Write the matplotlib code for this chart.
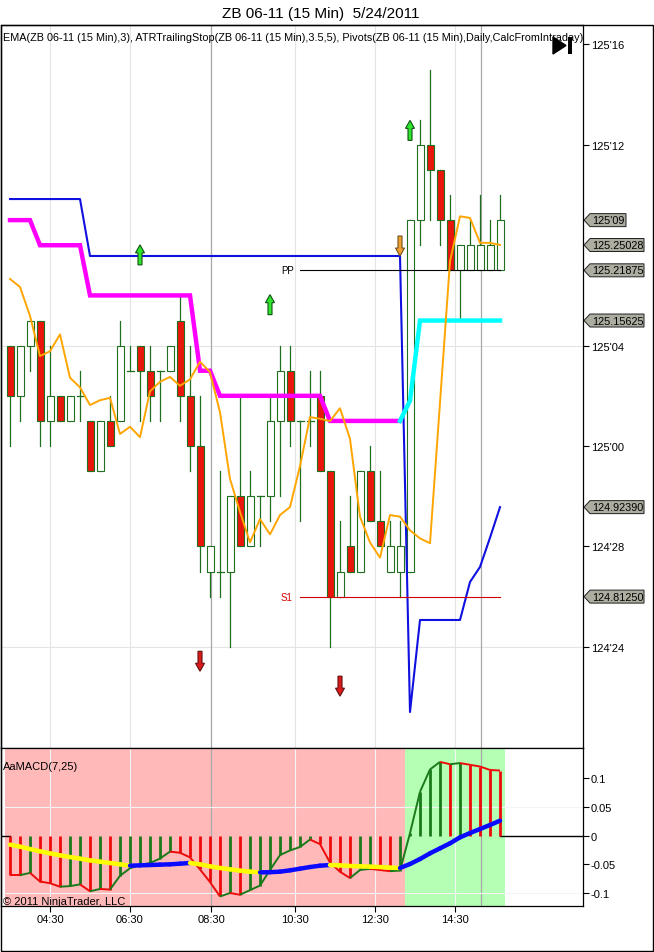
import numpy as np
import matplotlib
matplotlib.use('Agg')
import matplotlib.pyplot as plt
import matplotlib.transforms as mtransforms
from matplotlib.patches import Rectangle, Polygon
from matplotlib.collections import LineCollection

plt.rcParams['font.family'] = ['Liberation Sans', 'DejaVu Sans']

# 15 min bars of ZB 06-11, first bar 03:30; prices in 32nds above 125'00
opens  = [4, 2, 4, 5, 1, 2, 1, 2, 1, -1, 1, 1, 3, 4, 3, 3, 3, 5, 2, 0,
          -5, -5, -5, -2, -4, -2, -2, 1, 3, 1, 1, 2, -1, -6, -4, -5, -1, -3, -5, -5,
          -5, 9, 12, 11, 9, 7, 7, 7, 7, 7]
highs  = [4, 4, 5, 5, 4, 2, 2, 3, 1, 1, 2, 5, 4, 4, 4, 3, 4, 6, 4, 2,
          -4, -1, -2, 2, -1, -2, 2, 4, 4, 1, 3, 3, -1, -3, -2, -1, 0, -1, -3, -3,
          9, 13, 15, 11, 10, 8, 9, 10, 9, 10]
lows   = [0, 1, 3, 0, 0, 1, 1, 1, -1, -1, 0, 1, 3, 1, 1, 1, 3, 1, -1, -5,
          -6, -6, -8, -4, -4, -4, -3, -2, 0, -3, 0, -1, -8, -6, -5, -5, -3, -4, -5, -6,
          -5, 8, 9, 8, 7, 5, 7, 7, 7, 7]
closes = [2, 4, 5, 1, 2, 1, 2, 2, -1, 1, 0, 4, 3, 3, 2, 3, 4, 2, 0, -4,
          -4, -5, -2, -4, -2, -2, 1, 3, 1, 1, 1, -1, -6, -5, -5, -1, -3, -4, -4, -4,
          9, 12, 11, 9, 7, 8, 8, 8, 8, 9]

# EMA(3)
ema = [125.208, 125.198, 125.162, 125.112, 125.118, 125.139, 125.085, 125.073, 125.051, 125.057,
       125.060, 125.015, 125.024, 125.011, 125.068, 125.080, 125.086, 125.075, 125.083, 125.105,
       125.092, 125.042, 124.959, 124.918, 124.880, 124.909, 124.890, 124.914, 124.924, 124.975,
       125.036, 125.034, 125.031, 125.047, 125.009, 124.912, 124.880, 124.861, 124.914, 124.912,
       124.895, 124.885, 124.879, 125.054, 125.230, 125.286, 125.284, 125.253, 125.253, 125.25028]

# ATR trailing stop (short side up to bar 39, then long side)
atr_stop = [125.28125] * 3 + [125.25] * 5 + [125.1875] * 11 + [125.09375] * 2 + \
           [125.0625] * 11 + [125.03125] * 8 + [125.0564] + [125.15625] * 9
atr_flip = 39

# blue stop line
blue_line = [125.3075] * 8 + [125.2366] * 32 + [124.6688] + [124.7834] * 5 + \
            [124.8307, 124.8494, 124.8858, 124.92390]

# pivots
pp_level = 125.21875
s1_level = 124.81250
pivot_start = 29

# signal arrows (bar, price)
long_arrows = [(13, 125.238), (26, 125.176), (40, 125.393)]
short_arrows = [(19, 124.732), (33, 124.701)]
exit_arrows = [(39, 125.249)]

# AaMACD(7,25)
macd_hist = [-0.069, -0.069, -0.065, -0.080, -0.083, -0.089, -0.088, -0.085, -0.097, -0.093,
             -0.094, -0.070, -0.057, -0.051, -0.048, -0.040, -0.028, -0.030, -0.038, -0.059,
             -0.081, -0.106, -0.100, -0.103, -0.095, -0.087, -0.060, -0.034, -0.026, -0.020,
             -0.007, -0.015, -0.047, -0.063, -0.074, -0.060, -0.058, -0.060, -0.062, -0.061,
             0.004, 0.076, 0.115, 0.128, 0.124, 0.126, 0.123, 0.120, 0.114, 0.113]
macd_avg = [-0.0159, -0.0194, -0.0235, -0.0275, -0.0310, -0.0345, -0.0374, -0.0403, -0.0432, -0.0455,
            -0.0478, -0.0501, -0.0525, -0.0519, -0.0513, -0.0507, -0.0501, -0.0490, -0.0478, -0.0501,
            -0.0536, -0.0565, -0.0588, -0.0612, -0.0629, -0.0641, -0.0638, -0.0629, -0.0606, -0.0577,
            -0.0548, -0.0525, -0.0513, -0.0519, -0.0530, -0.0536, -0.0542, -0.0548, -0.0559, -0.0565,
            -0.0496, -0.0409, -0.0310, -0.0223, -0.0136, -0.0032, 0.0043, 0.0113, 0.0183, 0.0258]

time_labels = ['04:30', '06:30', '08:30', '10:30', '12:30', '14:30']
time_pos = [4, 12, 20.1, 28.5, 36.5, 44.5]
session_pos = [20.1, 47.1]
price_ticks = [124.75, 124.875, 125.0, 125.125, 125.375, 125.5]
price_grid = [124.75, 125.125]

WICK = '#1f6f1f'
RED = '#e8160c'


def to_price(t):
    return 125 + np.asarray(t, dtype=float) / 32.0


def fmt32(p):
    whole = int(np.floor(p + 1e-9))
    frac = int(round((p - whole) * 32))
    return "%d'%02d" % (whole, frac)


n = len(opens)
xs = np.arange(n)
o, h, l, c = to_price(opens), to_price(highs), to_price(lows), to_price(closes)

fig = plt.figure(figsize=(6.54, 9.53), dpi=100)
W, H = 654.0, 953.0
ax = fig.add_axes([1 / W, 1 - 749 / H, 582 / W, 723 / H])
ax2 = fig.add_axes([1 / W, 1 - 907 / H, 582 / W, 158 / H], sharex=ax)

xmin, xmax = -0.9, 57.3
ax.set_xlim(xmin, xmax)
ax.set_ylim(124.624, 125.5242)

# grid
for p in price_grid:
    ax.axhline(p, color='#e4e4e4', lw=0.8, zorder=0)
for t in time_pos:
    ax.axvline(t, color='#e4e4e4', lw=0.8, zorder=0)
    ax2.axvline(t, color='#f4f4f4', lw=0.8, zorder=0.5)
for t in session_pos:
    ax.axvline(t, color='#a8a8a8', lw=0.9, zorder=0.2)
    ax2.axvline(t, color='#a8a8a8', lw=0.9, zorder=0.5)

# candles
bw = 0.7
for i in range(n):
    ax.plot([xs[i], xs[i]], [l[i], h[i]], color=WICK, lw=0.9, zorder=2)
    if c[i] == o[i]:
        ax.plot([xs[i] - bw / 2, xs[i] + bw / 2], [o[i], o[i]], color=WICK, lw=0.9, zorder=3)
    else:
        fc = RED if c[i] < o[i] else 'white'
        ax.add_patch(Rectangle((xs[i] - bw / 2, min(o[i], c[i])), bw, abs(c[i] - o[i]),
                               facecolor=fc, edgecolor=WICK, lw=0.8, zorder=3))

# indicator lines
ax.plot(xs, blue_line, color='#1010e0', lw=1.5, zorder=4)
ax.plot(xs[:atr_flip + 1], atr_stop[:atr_flip + 1], color='#ff00ff', lw=3.2, zorder=4,
        solid_joinstyle='miter')
ax.plot(xs[atr_flip:], atr_stop[atr_flip:], color='#00ffff', lw=3.2, zorder=4,
        solid_joinstyle='miter')
ax.plot(xs, ema, color='#ffa500', lw=1.4, zorder=5)

# pivots
ax.plot([pivot_start, n - 1], [pp_level, pp_level], color='black', lw=0.8, zorder=4)
ax.plot([pivot_start, n - 1], [s1_level, s1_level], color='#d40000', lw=0.8, zorder=4)
ax.text(pivot_start - 0.6, pp_level, 'PP', ha='right', va='center', fontsize=7, color='black')
ax.text(pivot_start - 0.8, s1_level, 'S1', ha='right', va='center', fontsize=7, color='#d40000')

# arrows
ppx = (ax.get_ylim()[1] - ax.get_ylim()[0]) / 723.0


def arrow(xc, yc, up, fc, ec):
    hh = 10 * ppx
    head = 8 * ppx
    sw, hw = 0.2, 0.45
    s = 1 if up else -1
    tip = yc + s * hh
    base = yc - s * hh
    neck = tip - s * head
    pts = [(xc, tip), (xc + hw, neck), (xc + sw, neck), (xc + sw, base),
           (xc - sw, base), (xc - sw, neck), (xc - hw, neck)]
    ax.add_patch(Polygon(pts, closed=True, facecolor=fc, edgecolor=ec, lw=0.8, zorder=6))


for bx, py in long_arrows:
    arrow(bx, py, True, '#2ee62e', '#105010')
for bx, py in short_arrows:
    arrow(bx, py, False, '#dd1a1a', '#601010')
for bx, py in exit_arrows:
    arrow(bx, py, False, '#f0a030', '#70501a')

# axis styling, price panel
ax.yaxis.tick_right()
ax.set_yticks(price_ticks)
ax.set_yticklabels([fmt32(p) for p in price_ticks])
ax.tick_params(axis='y', direction='out', length=4, pad=1.5, labelsize=8)
ax.tick_params(axis='x', length=0, labelbottom=False)
for sp in ax.spines.values():
    sp.set_color('black')
    sp.set_linewidth(0.9)

ax.text(2 / 582, 1 - 12 / 723,
        'EMA(ZB 06-11 (15 Min),3), ATRTrailingStop(ZB 06-11 (15 Min),3.5,5), '
        'Pivots(ZB 06-11 (15 Min),Daily,CalcFromIntraday)',
        transform=ax.transAxes, ha='left', va='center', fontsize=7.8, clip_on=True, zorder=7)

# play icon
ax.add_patch(Polygon([(552 / 582, 1 - 12 / 723), (552 / 582, 1 - 29 / 723), (565 / 582, 1 - 20.5 / 723)],
                     closed=True, transform=ax.transAxes, facecolor='black', edgecolor='black',
                     zorder=8))
ax.add_patch(Rectangle((567 / 582, 1 - 29 / 723), 4 / 582, 17 / 723, transform=ax.transAxes,
                       facecolor='black', edgecolor='none', zorder=8))

# price tags
tr = mtransforms.blended_transform_factory(ax.transAxes, ax.transData)
axw = 582.0
tags = [(fmt32(c[-1]), c[-1], 43), ('%.5f' % ema[-1], ema[-1], 61),
        ('%.5f' % pp_level, pp_level, 61), ('%.5f' % atr_stop[-1], atr_stop[-1], 61),
        ('%.5f' % blue_line[-1], blue_line[-1], 61), ('%.5f' % s1_level, s1_level, 61)]
for txt, p, wpx in tags:
    hgt = 6.5 * ppx
    pts = [(1 + 1 / axw, p), (1 + 7 / axw, p + hgt), (1 + wpx / axw, p + hgt),
           (1 + wpx / axw, p - hgt), (1 + 7 / axw, p - hgt)]
    ax.add_patch(Polygon(pts, closed=True, transform=tr, facecolor='#acaca0',
                         edgecolor='#202020', lw=0.7, clip_on=False, zorder=9))
    ax.text(1 + 9 / axw, p, txt, transform=tr, ha='left', va='center', fontsize=7.8,
            clip_on=False, zorder=10)

# MACD panel
ax2.set_ylim(-0.1226, 0.1522)
for i, v in enumerate(macd_hist):
    left = i - 0.5 if i > 0 else max(xmin, i - 0.5)
    ax2.axvspan(left, i + 0.5, color='#ffb9b9' if v < 0 else '#b4ffb4', lw=0, zorder=0)
for gy in [0.05, -0.1]:
    ax2.axhline(gy, color='#f4f4f4', lw=0.8, zorder=0.5)
ax2.plot([xmin, 0], [0, 0], color='black', lw=1, zorder=1)
ax2.plot([n - 1, xmax], [0, 0], color='black', lw=1, zorder=1)

hist_cols = []
for i, v in enumerate(macd_hist):
    rising = i > 0 and v > macd_hist[i - 1]
    hist_cols.append('#1a7a1a' if rising else '#ee0a0a')
ax2.vlines(xs, 0, macd_hist, colors=hist_cols, lw=2.0, zorder=2)
segs = [[(i - 1, macd_hist[i - 1]), (i, macd_hist[i])] for i in range(1, n)]
ax2.add_collection(LineCollection(segs, colors=hist_cols[1:], lw=1.4, zorder=3))
avg_segs = [[(i - 1, macd_avg[i - 1]), (i, macd_avg[i])] for i in range(1, n)]
avg_cols = ['#0a0aff' if macd_avg[i] > macd_avg[i - 1] else '#ffff00' for i in range(1, n)]
ax2.add_collection(LineCollection(avg_segs, colors=avg_cols, lw=3.2, zorder=4, capstyle='round'))

ax2.yaxis.tick_right()
ax2.set_yticks([-0.1, -0.05, 0, 0.05, 0.1])
ax2.set_yticklabels(['-0.1', '-0.05', '0', '0.05', '0.1'])
ax2.tick_params(axis='y', direction='out', length=4, pad=1.5, labelsize=8)
ax2.set_xticks(time_pos)
ax2.set_xticklabels(time_labels)
ax2.tick_params(axis='x', direction='out', length=4, pad=2, labelsize=8)
for sp in ax2.spines.values():
    sp.set_color('black')
    sp.set_linewidth(0.9)

ax2.text(2 / 582, 1 - 18 / 158, 'AaMACD(7,25)', transform=ax2.transAxes, ha='left',
         va='center', fontsize=8, zorder=6)
ax2.text(2 / 582, 1 - 153 / 158, '\u00a9 2011 NinjaTrader, LLC', transform=ax2.transAxes,
         ha='left', va='center', fontsize=8, zorder=6)

# title and outer frame
fig.text(0.49, 1 - 14 / H, 'ZB 06-11 (15 Min)  5/24/2011', ha='center', va='center', fontsize=11)
fig.add_artist(Rectangle((0.5 / W, 1 / H), 652.5 / W, 926 / H, transform=fig.transFigure,
                         fill=False, edgecolor='black', lw=1))

fig.savefig('out.png', dpi=100)
